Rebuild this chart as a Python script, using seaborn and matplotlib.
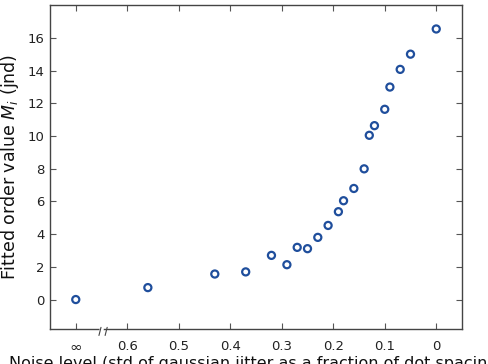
import numpy as np
import pandas as pd
import matplotlib
matplotlib.use("Agg")
import matplotlib.pyplot as plt
import seaborn as sns

# noise level (0.7 stands for the "infinite" noise point)
noise = [0.70, 0.56, 0.43, 0.37, 0.32, 0.29, 0.27, 0.25, 0.23, 0.21, 0.19,
         0.18, 0.16, 0.14, 0.13, 0.12, 0.10, 0.09, 0.07, 0.05, 0.00]
fitted = [0.0, 0.73, 1.56, 1.69, 2.70, 2.13, 3.19, 3.11, 3.80, 4.53, 5.37,
          6.04, 6.79, 7.99, 10.04, 10.63, 11.63, 12.99, 14.07, 15.0, 16.54]

xtick_pos = [0.7, 0.6, 0.5, 0.4, 0.3, 0.2, 0.1, 0.0]
xtick_lab = ["\u221e", "0.6", "0.5", "0.4", "0.3", "0.2", "0.1", "0"]
ytick_pos = [0, 2, 4, 6, 8, 10, 12, 14, 16]

df = pd.DataFrame({"noise": noise, "fitted": fitted})

sns.set_theme(style="ticks")
plt.rcParams["font.family"] = ["DejaVu Sans"]

fig = plt.figure(figsize=(4.88, 3.64), dpi=100)
ax = fig.add_axes([0.1025, 0.0962, 0.8442, 0.8898])

blue = "#1f4e9c"
sns.scatterplot(data=df, x="noise", y="fitted", ax=ax, marker="o", s=26,
                facecolors="none", edgecolor=blue, linewidth=1.6, zorder=3)

ax.set_xlim(0.75, -0.05)
ax.set_ylim(-1.8, 18)
ax.set_xticks(xtick_pos)
ax.set_xticklabels(xtick_lab)
ax.set_yticks(ytick_pos)

for s in ax.spines.values():
    s.set_color("#444444")
    s.set_linewidth(1.0)
ax.tick_params(direction="in", top=True, right=True, length=4, width=0.8,
               color="#555555", labelsize=9.5, labelcolor="#222222")
ax.tick_params(axis="x", pad=8)
ax.tick_params(axis="y", pad=4)
ax.get_xticklabels()[0].set_fontsize(11)

# axis break marks on the bottom spine
tr = ax.get_xaxis_transform()
ax.plot([0.6535, 0.6495], [-0.025, 0.0], transform=tr, color="white", lw=3,
        clip_on=False, zorder=5)
for x0 in [0.655, 0.643]:
    ax.plot([x0, x0 - 0.004], [-0.02, 0.005], transform=tr, color="#444444",
            lw=0.8, clip_on=False, zorder=6)

ax.set_xlabel("Noise level (std of gaussian jitter as a fraction of dot spacing)",
              fontsize=11.5, labelpad=1, color="#111111")
ax.set_ylabel("Fitted order value $M_i$ (jnd)", fontsize=12.5, labelpad=5,
              color="#111111")

fig.savefig("out.png", dpi=100)
